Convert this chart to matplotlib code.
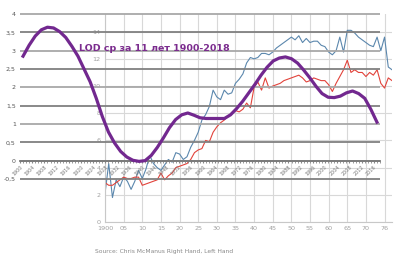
# Overlay of two charts: LOD 11-year average on top of the left-handedness chart
import matplotlib.pyplot as plt
from matplotlib.ticker import FixedLocator, MultipleLocator

# LOD, 11-year average (foreground chart)
lod_years = [1901, 1903, 1905, 1907, 1909, 1911, 1913, 1915, 1917, 1919,
             1921, 1923, 1925, 1927, 1929, 1931, 1933, 1935, 1937, 1939,
             1941, 1943, 1945, 1947, 1949, 1951, 1953, 1955, 1957, 1959,
             1961, 1963, 1965, 1967, 1969, 1971, 1973, 1975, 1977, 1979,
             1981, 1983, 1985, 1987, 1989, 1991, 1993, 1995, 1997, 1999,
             2001, 2003, 2005, 2007, 2009, 2011, 2013, 2015, 2017]
lod_values = [2.85, 3.15, 3.4, 3.57, 3.64, 3.62, 3.52, 3.36, 3.12, 2.85,
              2.5, 2.15, 1.7, 1.2, 0.78, 0.48, 0.25, 0.1, 0.01, -0.02,
              0.0, 0.14, 0.36, 0.62, 0.9, 1.12, 1.25, 1.3, 1.24, 1.17,
              1.15, 1.15, 1.15, 1.15, 1.25, 1.42, 1.62, 1.85, 2.08, 2.33,
              2.55, 2.72, 2.8, 2.83, 2.78, 2.66, 2.47, 2.26, 2.03, 1.83,
              1.73, 1.72, 1.76, 1.85, 1.9, 1.83, 1.7, 1.4, 1.05]
lod_ticks = [4, 3.5, 3, 2.5, 2, 1.5, 1, 0.5, 0, -0.5]
lod_tick_labels = ['4', '3,5', '3', '2,5', '2', '1,5', '1', '0,5', '0', '-0,5']
lod_date_labels = [str(y) for y in range(1900, 2018, 4)]

# Left-handedness, % (background chart)
lh_years = list(range(1900, 1978))
lh_blue = [2.1, 4.3, 1.8, 3.1, 2.6, 3.3, 3.0, 2.4, 3.0, 3.8,
           3.2, 3.9, 4.9, 4.3, 4.0, 3.8, 4.2, 4.6, 4.4, 5.1,
           5.0, 4.6, 4.8, 5.5, 6.0, 6.6, 7.5, 7.9, 8.5, 9.7,
           9.2, 9.0, 9.7, 9.4, 9.5, 10.2, 10.5, 10.9, 11.7, 12.1,
           12.0, 12.1, 12.4, 12.4, 12.3, 12.5, 12.8, 13.0, 13.2, 13.4,
           13.6, 13.4, 13.7, 13.2, 13.5, 13.2, 13.3, 13.3, 13.0, 12.9,
           12.5, 12.3, 12.6, 13.6, 12.5, 14.1, 14.1, 13.9, 13.6, 13.4,
           13.2, 13.0, 12.9, 13.6, 12.6, 13.6, 11.4, 11.2]
lh_red = [2.9, 2.7, 2.7, 2.9, 3.1, 3.3, 3.2, 3.2, 3.3, 3.3,
          2.7, 2.8, 2.9, 3.0, 3.1, 3.6, 3.1, 3.4, 3.6, 4.0,
          4.1, 4.2, 4.3, 4.6, 5.1, 5.3, 5.4, 6.0, 5.9, 6.6,
          7.0, 7.3, 7.5, 7.8, 8.0, 8.2, 8.1, 8.3, 8.75, 8.4,
          9.9, 10.3, 9.7, 10.6, 9.85, 10.0, 10.1, 10.2, 10.4, 10.5,
          10.6, 10.7, 10.8, 10.6, 10.3, 10.4, 10.6, 10.5, 10.4, 10.4,
          10.1, 9.6, 10.2, 10.7, 11.2, 11.9, 11.0, 11.2, 11.0, 11.0,
          10.7, 11.0, 10.8, 11.2, 10.2, 9.85, 10.6, 10.4]
lh_ticks = [0, 2, 4, 6, 8, 10, 12, 14]
lh_xticks = list(range(1900, 1980, 5))
lh_xtick_labels = ['1900', '05', '10', '15', '20', '25', '30', '35', '40',
                   '45', '50', '55', '60', '65', '70', '76']

W, H = 395, 259
fig = plt.figure(figsize=(W / 100, H / 100), dpi=100)

# Background chart
ax_bg = fig.add_axes([105 / W, 37 / H, 287 / W, 208 / H])
ax_bg.plot(lh_years, lh_blue, color='#5b87ad', lw=0.8)
ax_bg.plot(lh_years, lh_red, color='#e2433b', lw=0.8)
ax_bg.set_xlim(1900, 1977)
ax_bg.set_ylim(0, 15.3)
ax_bg.set_yticks(lh_ticks)
ax_bg.set_xticks(lh_xticks)
ax_bg.set_xticklabels(lh_xtick_labels)
ax_bg.tick_params(colors='#a0a0a0', labelsize=4.6, length=0, pad=3)
ax_bg.grid(color='#d8d8d8', lw=0.8)
for s in ['top', 'right']:
    ax_bg.spines[s].set_visible(False)
for s in ['left', 'bottom']:
    ax_bg.spines[s].set_color('#c8c8c8')

# Foreground LOD chart
ax = fig.add_axes([20 / W, 78.2 / H, 360 / W, 168.6 / H])
ax.patch.set_alpha(0)
ax.plot(lod_years, lod_values, color='#72288f', lw=2.3, zorder=3)
ax.set_xlim(1900, 2018)
ax.set_ylim(-0.55, 4.05)
ax.set_yticks(lod_ticks)
ax.set_yticklabels(lod_tick_labels)
ax.tick_params(axis='y', colors='#555555', labelsize=4.5, length=0, pad=3)
ax.grid(axis='y', color='#8c8c8c', lw=1.3)
for i, gl in enumerate(ax.get_ygridlines()):
    gl.set_color('#a8a8a8' if i % 2 == 0 else '#808080')
for s in ['top', 'right', 'left']:
    ax.spines[s].set_visible(False)
ax.spines['bottom'].set_position(('data', 0))
ax.spines['bottom'].set_color('#777777')
ax.spines['bottom'].set_linewidth(1.3)
ax.xaxis.set_major_locator(FixedLocator(range(1900, 2018, 4)))
ax.xaxis.set_minor_locator(MultipleLocator(1))
ax.set_xticklabels(lod_date_labels, rotation=45, ha='right', rotation_mode='anchor')
ax.tick_params(axis='x', which='both', direction='out', length=1.5, color='#888888',
               labelsize=3.5, labelcolor='#7a7a7a', pad=1)

ax.text(0.165, 0.785, 'LOD ср за 11 лет 1900-2018', transform=ax.transAxes,
        color='#7b2c8e', fontsize=6.8, fontweight='bold', va='center')

fig.text(95 / W, 1 - 252 / H, 'Source: Chris McManus Right Hand, Left Hand',
         fontsize=4.3, color='#888888', va='center')

fig.savefig('out.png', dpi=100)
